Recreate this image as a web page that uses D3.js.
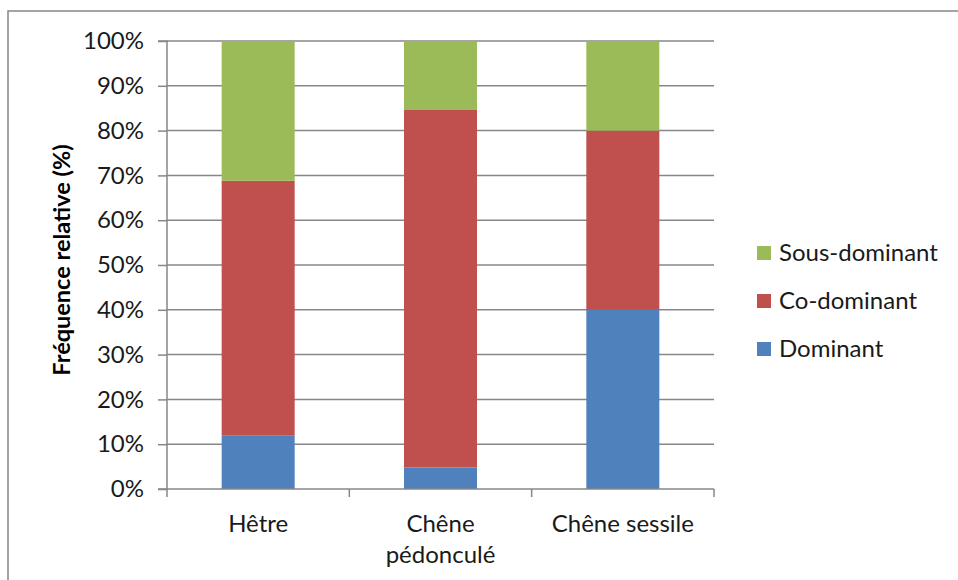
<!DOCTYPE html>
<html><head><meta charset="utf-8">
<script src="https://cdn.jsdelivr.net/npm/d3@7"></script>
<style>body{margin:0;background:#fff;}svg{display:block;font-family:Lato,"Open Sans",sans-serif;}</style>
</head><body><svg id="c" width="958" height="580"></svg>
<script>
const categories = [["Hêtre"], ["Chêne", "pédonculé"], ["Chêne sessile"]];
const seriesNames = ["Dominant", "Co-dominant", "Sous-dominant"];
const dominant = [12, 4.8, 40];
const coDominant = [56.8, 79.8, 40];
const sousDominant = [31.2, 15.4, 20];
const yTicks = [0, 10, 20, 30, 40, 50, 60, 70, 80, 90, 100];
const colors = ["#4F81BD", "#C0504D", "#9BBB59"];

const svg = d3.select("#c");
const grey = "#878787";
svg.append("rect").attr("x", 8).attr("y", 11).attr("width", 980).attr("height", 600)
  .attr("fill", "none").attr("stroke", grey).attr("stroke-width", 1.5);

const x0 = 167, x1 = 714, yTop = 41, yBot = 489;
const x = d3.scaleBand().domain(d3.range(categories.length)).range([x0, x1]).paddingInner(0.6).paddingOuter(0.3);
const y = d3.scaleLinear().domain([0, 100]).range([yBot, yTop]);

// gridlines
svg.append("g").selectAll("line").data(yTicks.filter(d => d > 0)).join("line")
  .attr("x1", x0).attr("x2", x1).attr("y1", d => y(d)).attr("y2", d => y(d))
  .attr("stroke", grey).attr("stroke-width", 1.5);

// stacked bars
const rows = categories.map((c, i) => ({i, Dominant: dominant[i], "Co-dominant": coDominant[i], "Sous-dominant": sousDominant[i]}));
const stack = d3.stack().keys(seriesNames)(rows);
const band = x.bandwidth();
const bw = 73;
svg.append("g").selectAll("g").data(stack).join("g")
  .attr("fill", (d, k) => colors[k])
  .selectAll("rect").data(d => d).join("rect")
  .attr("x", d => x(d.data.i) + band / 2 - bw / 2)
  .attr("width", bw)
  .attr("y", d => y(d[1]))
  .attr("height", d => y(d[0]) - y(d[1]));

// y axis
const yAxis = d3.axisLeft(y).tickValues(yTicks).tickSize(9).tickPadding(14).tickFormat(d => d + "%");
const gy = svg.append("g").attr("transform", `translate(${x0},0)`).call(yAxis);
gy.select(".domain").attr("stroke", grey).attr("stroke-width", 1.5).attr("d", `M-9,${yTop}H0V${yBot}H-9`);
gy.selectAll(".tick line").attr("stroke", grey).attr("stroke-width", 1.5);
gy.selectAll(".tick text").attr("font-size", 24).attr("fill", "#1a1a1a").attr("font-family", "Lato");

// x axis
const xAxisG = svg.append("g").attr("transform", `translate(0,${yBot})`);
xAxisG.append("line").attr("x1", x0).attr("x2", x1).attr("y1", 0).attr("y2", 0).attr("stroke", grey).attr("stroke-width", 1.5);
const boundaries = d3.range(categories.length + 1).map(i => x0 + (x1 - x0) * i / categories.length);
xAxisG.selectAll("line.t").data(boundaries).join("line").attr("class", "t")
  .attr("x1", d => d).attr("x2", d => d).attr("y1", 0).attr("y2", 8)
  .attr("stroke", grey).attr("stroke-width", 1.5);
const lab = svg.append("g").selectAll("text").data(categories).join("text")
  .attr("x", (d, i) => x(i) + band / 2).attr("y", 532)
  .attr("text-anchor", "middle").attr("font-size", 24).attr("fill", "#1a1a1a");
lab.selectAll("tspan").data(d => d).join("tspan")
  .attr("x", function() { return d3.select(this.parentNode).attr("x"); })
  .attr("dy", (d, j) => j === 0 ? 0 : 31).text(d => d);

// y title
svg.append("text").attr("transform", `translate(70,260) rotate(-90)`)
  .attr("text-anchor", "middle").attr("font-size", 23.5).attr("font-weight", "bold").attr("fill", "#000")
  .text("Fréquence relative (%)");

// legend
const legendOrder = [2, 1, 0];
const lg = svg.append("g").selectAll("g").data(legendOrder).join("g")
  .attr("transform", (k, j) => `translate(757,${246 + j * 48})`);
lg.append("rect").attr("width", 14).attr("height", 14).attr("fill", k => colors[k]);
lg.append("text").attr("x", 22).attr("y", 15).attr("font-size", 24).attr("fill", "#1a1a1a").text(k => seriesNames[k]);
</script></body></html>
